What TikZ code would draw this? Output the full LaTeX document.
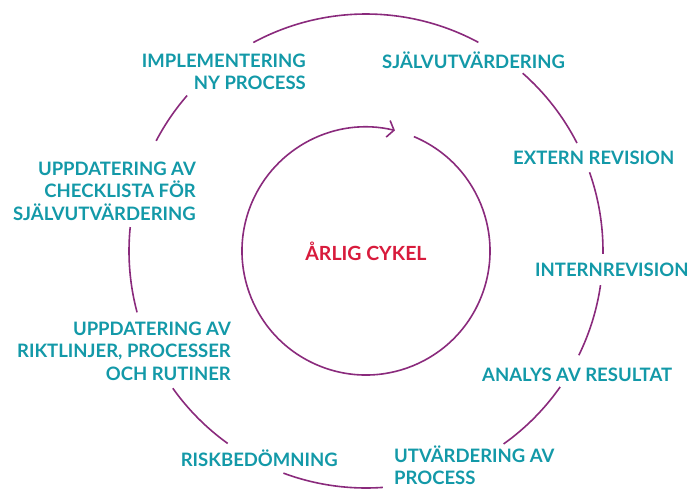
\documentclass[tikz,border=0pt]{standalone}
\usepackage{fontspec}
\setmainfont{Lato}
\usepackage{xcolor}
\usepackage{tikz}
\usetikzlibrary{arrows.meta, positioning}
\definecolor{cykelteal}{HTML}{1399A8}
\definecolor{cykelring}{HTML}{8A2A7C}
\definecolor{cykelred}{HTML}{D81B3C}

\begin{document}
\begin{tikzpicture}[x=1pt, y=1pt,
  every node/.style={font=\fontsize{18.5}{22.5}\selectfont\bfseries, inner sep=0pt},
  steplabel/.style={text=cykelteal},
  ring/.style={cykelring, line width=1.6pt}]
  \useasboundingbox (-366,-237) rectangle (324,251);
  % outer ring, broken at the labels
  \foreach \a/\b in {118.4/61.7, 48.6/27.1, 19.4/-0.7, -8.3/-26.1, -35/-54.5,
                     -85.9/-110.4, -125.7/-144.6, -165/-185.8, -207.7/-221}
    \draw[ring] (\a:237) arc[start angle=\a, end angle=\b, radius=237];
  % inner ring with arrow
  \draw[ring, -{Straight Barb[length=6pt, width=17pt, line width=1.6pt]}]
    (67.3:124) arc[start angle=67.3, end angle=-283.5, radius=124];
  \node[text=cykelred, font=\fontsize{19.5}{22.5}\selectfont\bfseries] (arlig) at (0,0) {ÅRLIG CYKEL};
  \node[steplabel, anchor=east, align=right] (impl) at (-60,179) {IMPLEMENTERING\\NY PROCESS};
  \node[steplabel, anchor=west] (sjalv) at (16,191) {SJÄLVUTVÄRDERING};
  \node[steplabel, anchor=west] (extern) at (147,93) {EXTERN REVISION};
  \node[steplabel, anchor=west] (intern) at (169,-19) {INTERNREVISION};
  \node[steplabel, anchor=west] (analys) at (116,-124) {ANALYS AV RESULTAT};
  \node[steplabel, anchor=west, align=left] (utv) at (28,-214) {UTVÄRDERING AV\\PROCESS};
  \node[steplabel, anchor=east] (risk) at (-28,-207) {RISKBEDÖMNING};
  \node[steplabel, anchor=east, align=right] (rikt) at (-135,-100) {UPPDATERING AV\\RIKTLINJER, PROCESSER\\OCH RUTINER};
  \node[steplabel, anchor=east, align=right] (check) at (-170,60) {UPPDATERING AV\\CHECKLISTA FÖR\\SJÄLVUTVÄRDERING};
\end{tikzpicture}
\end{document}
